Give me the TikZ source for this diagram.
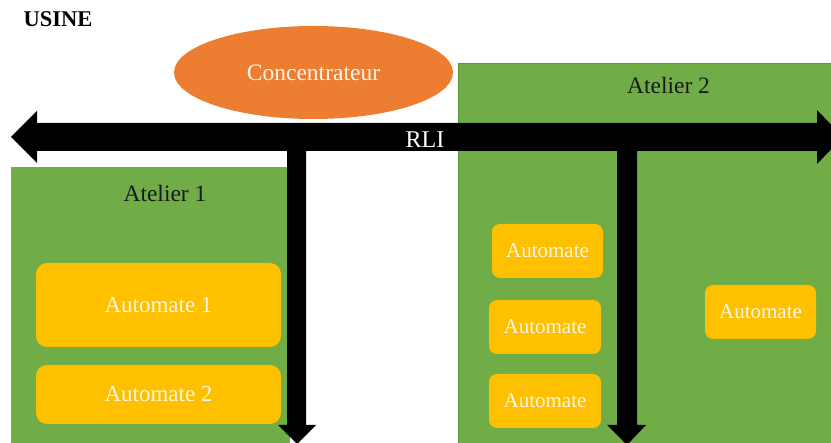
\documentclass[tikz,border=0pt]{standalone}
\usepackage{fontspec}
\setmainfont{Liberation Serif}
\usetikzlibrary{shapes.geometric}
\definecolor{atgreen}{HTML}{70AD47}
\definecolor{atorange}{HTML}{ED7D31}
\definecolor{atyellow}{HTML}{FFC000}
\definecolor{cream}{HTML}{FFF6E8}
\begin{document}
\begin{tikzpicture}[x=1pt,y=-1pt,
  greenbox/.style={fill=atgreen, inner sep=0pt, anchor=north west},
  autobig/.style={fill=atyellow, rounded corners=11pt, inner sep=0pt, text=cream,
    font=\fontsize{23}{27}\selectfont, minimum width=245pt},
  autosmall/.style={fill=atyellow, rounded corners=8pt, inner sep=0pt, text=cream,
    font=\fontsize{21}{25}\selectfont, minimum width=112pt, minimum height=54pt},
  label/.style={inner sep=0pt, text=black!90, font=\fontsize{23.5}{27}\selectfont},
  bus/.style={fill=black}]
\useasboundingbox (0,0) rectangle (831,443);
\clip (0,0) rectangle (831,443);

% title
\node[inner sep=0pt, font=\bfseries\fontsize{22.5}{26}\selectfont] (usine) at (58,19.5) {USINE};

% workshops
\node[greenbox, minimum width=279pt, minimum height=290pt] (at1) at (11,167) {};
\node[greenbox, draw=atgreen!85!black, line width=0.6pt, minimum width=380pt, minimum height=390pt] (at2) at (458,63) {};
\node[label] (at1lab) at (165,193) {Atelier 1};
\node[label] (at2lab) at (668.5,85) {Atelier 2};

% automates
\node[autobig, minimum height=84pt] (a1) at (158.5,305) {Automate 1};
\node[autobig, minimum height=59pt] (a2) at (158.5,394.5) {Automate 2};
\node[autosmall, minimum width=111pt] (b1) at (547.5,251) {Automate};
\node[autosmall] (b2) at (545,327) {Automate};
\node[autosmall] (b3) at (545,401) {Automate};
\node[autosmall, minimum width=111pt] (b4) at (760.5,312) {Automate};

% concentrator
\node[ellipse, fill=atorange, minimum width=279pt, minimum height=93pt, inner sep=0pt,
  text=cream, font=\fontsize{23.5}{27}\selectfont] (conc) at (313.5,72.5) {Concentrateur};

% RLI bus (double block arrow)
\coordinate (busL) at (11,137);
\coordinate (busR) at (843,137);
\fill[bus] (busL) -- (37,111) -- (37,123) -- (817,123) -- (817,110) -- (busR)
  -- (817,164) -- (817,151) -- (37,151) -- (37,163) -- cycle;
\node[inner sep=0pt, text=white, font=\fontsize{24}{28}\selectfont] (rli) at (425,140) {RLI};

% drops
\coordinate (d1) at (297,444);
\coordinate (d2) at (627,445);
\fill[bus] (287,140) -- (306,140) -- (306,425) -- (316,425) -- (d1) -- (278,425) -- (287,425) -- cycle;
\fill[bus] (617,140) -- (637,140) -- (637,425) -- (646,425) -- (d2) -- (607,425) -- (617,425) -- cycle;
\end{tikzpicture}
\end{document}
